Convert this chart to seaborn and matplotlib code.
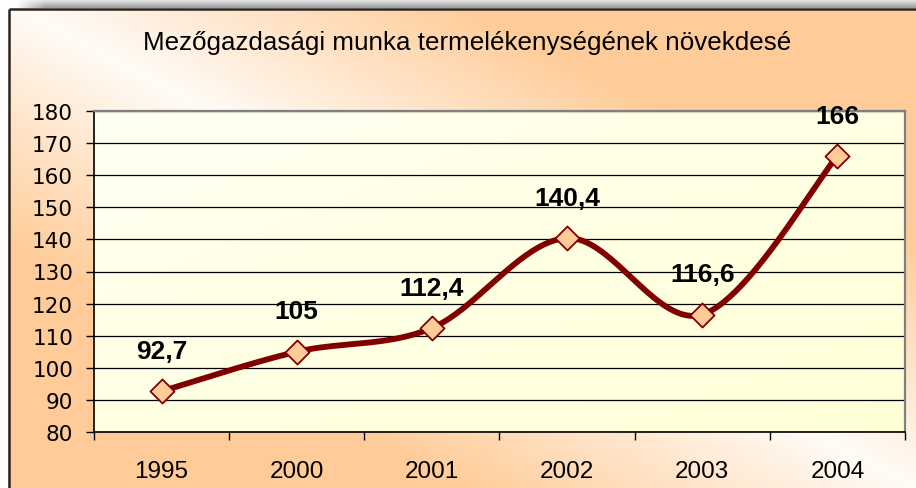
import numpy as np
import pandas as pd
import matplotlib
matplotlib.use('Agg')
import matplotlib.pyplot as plt
import seaborn as sns

# Chart data
years = ['1995', '2000', '2001', '2002', '2003', '2004']
productivity = [92.7, 105, 112.4, 140.4, 116.6, 166]
title = 'Mezőgazdasági munka termelékenységének növekdesé'

W, H = 916, 489


def smooth_curve(xs, ys, n=40):
    """Excel-like smoothed line: cubic Bezier segments, Catmull-Rom control points."""
    pts = np.column_stack([xs, ys]).astype(float)
    padded = np.vstack([pts[0], pts, pts[-1]])
    t = np.linspace(0, 1, n)[:, None]
    segs = []
    for i in range(len(pts) - 1):
        p0, p1, p2, p3 = padded[i], padded[i + 1], padded[i + 2], padded[i + 3]
        c1 = p1 + (p2 - p0) / 6
        c2 = p2 - (p3 - p1) / 6
        seg = (1 - t) ** 3 * p1 + 3 * (1 - t) ** 2 * t * c1 + 3 * (1 - t) * t ** 2 * c2 + t ** 3 * p2
        segs.append(seg if i == 0 else seg[1:])
    return np.vstack(segs)


def draw_background(fig):
    bg = fig.add_axes([0, 0, 1, 1], zorder=-10)
    bg.axis('off')
    u = np.linspace(0, 1, W)[None, :]
    v = np.linspace(0, 1, H)[:, None]
    t = np.clip(np.abs(u - v) * 2.0, 0, 1)[..., None]
    light = np.array([1.0, 0.985, 0.965])
    orange = np.array([1.0, 0.80, 0.60])
    img = light * (1 - t) + orange * t
    # white margin outside the chart frame
    img[:, :8] = 1.0
    img[:10, :] = 1.0
    # grey shadow strip on top
    for r in range(9):
        g = 0.92 - 0.3 * r / 8
        fade = np.clip((np.arange(W) - 15) / 30, 0, 1)
        img[r, :, :] = (1 - fade[:, None]) * 1.0 + fade[:, None] * g
    bg.imshow(img, extent=[0, 1, 0, 1], aspect='auto', origin='upper')
    bg.set_xlim(0, 1)
    bg.set_ylim(0, 1)
    # frame border
    bg.plot([8.5 / W, 8.5 / W], [0, 1 - 10 / H], color='#2b2520', lw=1.8, solid_capstyle='butt')
    bg.plot([8.5 / W, 1], [1 - 10 / H, 1 - 10 / H], color='#2b2520', lw=1.8, solid_capstyle='butt')


def main():
    sns.set_theme(style='white')
    plt.rcParams['font.family'] = ['Liberation Sans', 'DejaVu Sans']
    plt.rcParams['text.color'] = 'black'

    fig = plt.figure(figsize=(W / 100, H / 100), dpi=100)
    draw_background(fig)

    ax = fig.add_axes([94 / W, 1 - 433 / H, (905 - 94) / W, (433 - 112) / H])
    x = np.arange(len(years))

    # light yellow plot area
    gu = np.linspace(0, 1, 200)[None, :]
    gv = np.linspace(0, 1, 100)[:, None]
    gt = np.clip((gu + (1 - gv)) / 2, 0, 1)[..., None]
    pale = np.array([1.0, 1.0, 0.95])
    yellow = np.array([1.0, 1.0, 0.84])
    ax.imshow(pale * (1 - gt) + yellow * gt, extent=[-0.5, 5.5, 80, 180],
              aspect='auto', origin='lower', zorder=0)

    curve = smooth_curve(x, productivity)
    df_curve = pd.DataFrame({'x': curve[:, 0], 'y': curve[:, 1]})
    sns.lineplot(ax=ax, data=df_curve, x='x', y='y', sort=False, color='#800000',
                 lw=4.2, zorder=3)
    df = pd.DataFrame({'x': x, 'y': productivity})
    sns.scatterplot(ax=ax, data=df, x='x', y='y', marker='D', s=150, color='#ffcc99',
                    edgecolor='#800000', linewidth=1.3, zorder=4)

    for xi, val in zip(x, productivity):
        ax.annotate(f'{val:g}'.replace('.', ','), (xi, val), xytext=(0, 29),
                    textcoords='offset points', ha='center', va='center', color='black',
                    fontsize=19, fontweight='bold', family='Liberation Sans', zorder=5)

    ax.set_xlim(-0.5, 5.5)
    ax.set_ylim(80, 180)
    ax.set_xlabel('')
    ax.set_ylabel('')
    ax.set_yticks(range(80, 181, 10))
    ax.set_yticklabels([str(v) for v in range(80, 181, 10)], family='DejaVu Sans', fontsize=15.5)
    ax.set_xticks(x)
    ax.set_xticklabels(years, family='Liberation Sans', fontsize=17.5)
    ax.set_xticks(np.arange(-0.5, 6, 1), minor=True)
    ax.tick_params(axis='y', direction='out', length=6, width=1, pad=9, colors='black', left=True)
    ax.tick_params(axis='x', which='major', length=0, pad=20, colors='black')
    ax.tick_params(axis='x', which='minor', direction='out', length=6, width=1, bottom=True, color='black')

    ax.set_axisbelow(True)
    ax.yaxis.grid(True, color='black', lw=0.9)
    ax.xaxis.grid(False)
    for side in ['left', 'bottom']:
        ax.spines[side].set_color('black')
        ax.spines[side].set_linewidth(1.2)
    for side in ['top', 'right']:
        ax.spines[side].set_color('#808080')
        ax.spines[side].set_linewidth(1.6)

    fig.text(467 / W, 1 - 43 / H, title, ha='center', va='center', fontsize=18.7,
             family='Liberation Sans', color='black')

    fig.savefig('out.png', dpi=100)


if __name__ == '__main__':
    main()
